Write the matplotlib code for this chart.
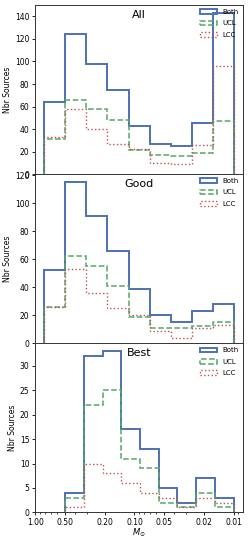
import numpy as np
import matplotlib
matplotlib.use('Agg')
from matplotlib import pyplot as plt
import matplotlib.ticker as mticker

# counts per bin (high mass -> low mass, as drawn)
all_both = [64, 124, 98, 75, 43, 27, 25, 45, 143]
all_ucl = [31, 66, 58, 48, 21, 17, 16, 19, 47]
all_lcc = [33, 58, 40, 27, 22, 10, 9, 26, 96]

good_both = [52, 115, 91, 66, 39, 20, 15, 23, 28]
good_ucl = [26, 62, 55, 41, 19, 11, 11, 12, 15]
good_lcc = [26, 53, 36, 25, 20, 9, 4, 11, 13]

best_both = [4, 32, 33, 17, 13, 5, 2, 7, 3]
best_ucl = [3, 22, 25, 11, 9, 2, 1, 4, 1]
best_lcc = [1, 10, 8, 6, 4, 3, 1, 3, 2]

# bin edges (solar masses), log spaced, high mass first
edges_wide = np.logspace(np.log10(0.81), -2, 10)
edges_best = np.logspace(np.log10(0.5), -2, 10)

xticks = [1.0, 0.5, 0.2, 0.1, 0.05, 0.02, 0.01]

panels = [
    ('All', edges_wide, all_both, all_ucl, all_lcc),
    ('Good', edges_wide, good_both, good_ucl, good_lcc),
    ('Best', edges_best, best_both, best_ucl, best_lcc),
]

blue = '#4c72b0'
green = '#55a868'
red = '#c44e52'

plt.rcParams['font.size'] = 5.5

fig, axes = plt.subplots(3, 1, figsize=(2.49, 5.39), dpi=100, sharex=True)
fig.subplots_adjust(left=0.1406, right=0.976, top=0.9907, bottom=0.0495, hspace=0)


def draw(ax, edges, counts, **kw):
    # numpy wants increasing bins, so flip edges and counts together
    e = edges[::-1]
    c = np.asarray(counts)[::-1]
    mids = np.sqrt(e[:-1] * e[1:])
    ax.hist(mids, bins=e, weights=c, histtype='step', **kw)


for ax, (name, edges, both, ucl, lcc) in zip(axes, panels):
    draw(ax, edges, both, color=blue, lw=1.4, label='Both')
    draw(ax, edges, ucl, color=green, lw=1.1, ls='--', label='UCL')
    draw(ax, edges, lcc, color=red, lw=1.0, ls=':', label='LCC')
    ax.set_xscale('log')
    ax.set_ylabel('Nbr Sources', fontsize=5.5, labelpad=2)
    ax.text(0.5, 0.94, name, transform=ax.transAxes, ha='center', va='center',
            fontsize=8)
    ax.legend(loc='upper right', frameon=False, fontsize=5,
              handlelength=2.4, labelspacing=0.75, borderaxespad=0.2)
    ax.tick_params(labelsize=5.5, length=2.5, width=0.6, pad=1.5)
    for s in ax.spines.values():
        s.set_linewidth(0.7)
        s.set_color('#333333')

axes[0].invert_xaxis()
for ax in axes[:2]:
    ax.tick_params(axis='x', which='both', bottom=False, labelbottom=False)

ax = axes[2]
ax.xaxis.set_major_locator(mticker.FixedLocator(xticks))
ax.xaxis.set_major_formatter(mticker.FormatStrFormatter('%.2f'))
ax.xaxis.set_minor_formatter(mticker.NullFormatter())
ax.tick_params(axis='x', which='minor', length=1.5, width=0.5)
ax.set_xlabel(r'$M_{\odot}$', fontsize=6, labelpad=0)

fig.savefig('out.png', dpi=100)
